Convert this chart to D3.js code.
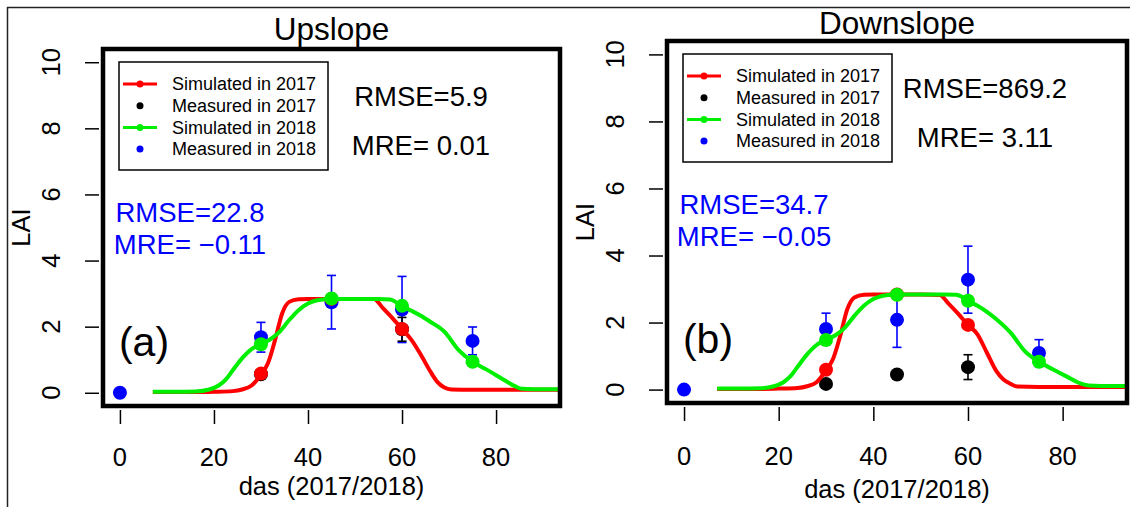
<!DOCTYPE html>
<html>
<head>
<meta charset="utf-8">
<script src="https://cdn.jsdelivr.net/npm/d3@7/dist/d3.min.js"></script>
<style>
  html, body { margin: 0; padding: 0; background: #fff; }
  svg { display: block; }
  text { font-family: "Liberation Sans", Arial, Helvetica, sans-serif; fill: #000; }
</style>
</head>
<body>
<svg id="chart" width="1130" height="507"></svg>
<script>
// ---- axis ticks ----
const xTicks = [0, 20, 40, 60, 80];
const yTicks = [0, 2, 4, 6, 8, 10];

// ---- legend ----
const legendLabels = ["Simulated in 2017", "Measured in 2017", "Simulated in 2018", "Measured in 2018"];

// ---- simulated daily LAI, 2017 (red) ----
const sim17Days = [7, 12, 16, 20, 24, 26, 28, 30, 31.5, 33, 34.5, 36, 38, 40, 45, 50, 54, 56, 58, 60, 62, 64, 66, 67.5, 69, 70.5, 75, 80, 85, 90, 93.6];
const upSim17 = [0.02, 0.02, 0.02, 0.03, 0.05, 0.1, 0.22, 0.55, 0.9, 1.6, 2.4, 2.75, 2.83, 2.84, 2.84, 2.84, 2.84, 2.55, 2.25, 1.93, 1.6, 1.15, 0.65, 0.33, 0.16, 0.1, 0.09, 0.09, 0.09, 0.09, 0.09];
const downSim17 = [0.02, 0.02, 0.02, 0.03, 0.05, 0.1, 0.22, 0.57, 0.92, 1.6, 2.4, 2.75, 2.83, 2.84, 2.84, 2.84, 2.82, 2.55, 2.25, 1.93, 1.65, 1.1, 0.55, 0.3, 0.17, 0.09, 0.08, 0.08, 0.08, 0.08, 0.08];

// ---- simulated daily LAI, 2018 (green) ----
const sim18Days = [7, 12, 16, 19, 21, 22.5, 24, 26, 28, 30, 32, 34, 36, 38, 40, 42, 45, 50, 55, 57.5, 59, 60, 62, 64, 66, 69, 72, 75, 78, 81, 84, 85.5, 88, 93.6];
const upSim18 = [0.03, 0.03, 0.04, 0.1, 0.22, 0.4, 0.68, 1.05, 1.32, 1.47, 1.62, 1.85, 2.2, 2.5, 2.7, 2.8, 2.84, 2.84, 2.84, 2.82, 2.72, 2.62, 2.48, 2.33, 2.15, 1.85, 1.3, 0.94, 0.7, 0.45, 0.2, 0.12, 0.11, 0.11];
const downSim18 = [0.03, 0.03, 0.04, 0.1, 0.22, 0.4, 0.68, 1.05, 1.33, 1.48, 1.62, 1.85, 2.2, 2.5, 2.7, 2.8, 2.84, 2.84, 2.84, 2.83, 2.75, 2.65, 2.5, 2.32, 2.1, 1.7, 1.15, 0.83, 0.6, 0.38, 0.17, 0.12, 0.11, 0.11];

// ---- simulated values at sampling dates ----
const sim17PtDays = [30, 45, 60];
const upSim17Pts = [0.58, 2.84, 1.93];
const downSim17Pts = [0.59, 2.84, 1.93];
const sim18PtDays = [30, 45, 60, 75];
const upSim18Pts = [1.47, 2.85, 2.63, 0.94];
const downSim18Pts = [1.48, 2.83, 2.65, 0.83];

// ---- measured LAI, 2017 (black) with standard deviation ----
const meas17Days = [30, 60];
const upMeas17 = [0.56, 1.92];
const upMeas17Sd = [0, 0.36];
const downMeas17Days = [30, 45, 60];
const downMeas17 = [0.17, 0.45, 0.67];
const downMeas17Sd = [0, 0, 0.37];

// ---- measured LAI, 2018 (blue) with standard deviation ----
const meas18Days = [0, 30, 45, 60, 75];
const upMeas18 = [0, 1.68, 2.74, 2.52, 1.57];
const upMeas18Sd = [0, 0.45, 0.81, 1.0, 0.42];
const downMeas18 = [0, 1.81, 2.08, 3.28, 1.09];
const downMeas18Sd = [0, 0.47, 0.82, 1.0, 0.40];

// ---- fit statistics ----
const upStats17 = ["RMSE=5.9", "MRE= 0.01"];
const upStats18 = ["RMSE=22.8", "MRE= \u22120.11"];
const downStats17 = ["RMSE=869.2", "MRE= 3.11"];
const downStats18 = ["RMSE=34.7", "MRE= \u22120.05"];

const RED = "#ff0000", GREEN = "#00ee00", BLUE = "#0000ff", BLACK = "#000000";

const svg = d3.select("#chart");

// page frame
svg.append("line").attr("x1", 7).attr("y1", 7.5).attr("x2", 1130).attr("y2", 7.5)
  .attr("stroke", "#222").attr("stroke-width", 1.5);
svg.append("line").attr("x1", 7.5).attr("y1", 7).attr("x2", 7.5).attr("y2", 507)
  .attr("stroke", "#222").attr("stroke-width", 1.5);

const panels = [
  {
    id: "up", title: "Upslope", tag: "(a)",
    box: { x0: 103, x1: 560, y0: 49, y1: 406 },
    titleY: 40, xTitleY: 495, tickLabelY: 466,
    sim17: upSim17, sim18: upSim18,
    sim17Pts: upSim17Pts, sim18Pts: upSim18Pts,
    m17Days: meas17Days, m17: upMeas17, m17Sd: upMeas17Sd,
    m18: upMeas18, m18Sd: upMeas18Sd,
    stats17: upStats17, stats18: upStats18
  },
  {
    id: "down", title: "Downslope", tag: "(b)",
    box: { x0: 667, x1: 1127, y0: 41, y1: 403 },
    titleY: 34, xTitleY: 498, tickLabelY: 465,
    sim17: downSim17, sim18: downSim18,
    sim17Pts: downSim17Pts, sim18Pts: downSim18Pts,
    m17Days: downMeas17Days, m17: downMeas17, m17Sd: downMeas17Sd,
    m18: downMeas18, m18Sd: downMeas18Sd,
    stats17: downStats17, stats18: downStats18
  }
];

panels.forEach(p => {
  const b = p.box;
  const x = d3.scaleLinear().domain([-3.6, 93.6]).range([b.x0, b.x1]);
  const y = d3.scaleLinear().domain([-0.4, 10.4]).range([b.y1, b.y0]);
  const g = svg.append("g");

  // title
  g.append("text").attr("x", (b.x0 + b.x1) / 2).attr("y", p.titleY)
    .attr("text-anchor", "middle").attr("font-size", 31.5).text(p.title);

  // y axis: tick marks and rotated labels
  const yAxis = d3.axisLeft(y).tickValues(yTicks).tickSize(14).tickPadding(20);
  const ya = g.append("g").attr("transform", `translate(${b.x0 - 4},0)`).call(yAxis);
  ya.select(".domain").remove();
  ya.selectAll(".tick line").attr("stroke", "#000").attr("stroke-width", 1.5);
  ya.selectAll(".tick text").remove();
  yTicks.forEach(t => {
    g.append("text")
      .attr("transform", `translate(${b.x0 - 52},${y(t)}) rotate(-90)`)
      .attr("text-anchor", "middle").attr("dy", "0.36em")
      .attr("font-size", 25.5).text(t);
  });

  // x axis: tick marks and labels
  const xAxis = d3.axisBottom(x).tickValues(xTicks).tickSize(14).tickFormat(d3.format("d"));
  const xa = g.append("g").attr("transform", `translate(0,${b.y1 + 4})`).call(xAxis);
  xa.select(".domain").remove();
  xa.selectAll(".tick line").attr("stroke", "#000").attr("stroke-width", 1.5);
  xa.selectAll(".tick text").remove();
  xTicks.forEach(t => {
    g.append("text").attr("x", x(t)).attr("y", p.tickLabelY)
      .attr("text-anchor", "middle").attr("font-size", 25.5).text(t);
  });

  // axis titles
  g.append("text").attr("x", (b.x0 + b.x1) / 2).attr("y", p.xTitleY)
    .attr("text-anchor", "middle").attr("font-size", 25.5).text("das (2017/2018)");
  g.append("text")
    .attr("transform", `translate(${b.x0 - 82},${(b.y0 + b.y1) / 2}) rotate(-90)`)
    .attr("text-anchor", "middle").attr("dy", "0.36em")
    .attr("font-size", 25.5).text("LAI");

  // plotting region
  const clipId = "clip-" + p.id;
  svg.append("clipPath").attr("id", clipId).append("rect")
    .attr("x", b.x0).attr("y", b.y0).attr("width", b.x1 - b.x0).attr("height", b.y1 - b.y0);
  const plot = g.append("g").attr("clip-path", `url(#${clipId})`);

  const errorBars = (days, vals, sds, color) => {
    days.forEach((d, i) => {
      const sd = sds[i];
      if (!sd) return;
      const cx = x(d), lo = y(vals[i] - sd), hi = y(vals[i] + sd);
      plot.append("line").attr("x1", cx).attr("x2", cx).attr("y1", lo).attr("y2", hi)
        .attr("stroke", color).attr("stroke-width", 1.6);
      [lo, hi].forEach(yy => plot.append("line")
        .attr("x1", cx - 4.5).attr("x2", cx + 4.5).attr("y1", yy).attr("y2", yy)
        .attr("stroke", color).attr("stroke-width", 1.6));
    });
  };
  const dots = (days, vals, color, r) => {
    plot.append("g").selectAll("circle").data(days).join("circle")
      .attr("cx", d => x(d)).attr("cy", (d, i) => y(vals[i]))
      .attr("r", r).attr("fill", color);
  };
  const line = d3.line().x(d => x(d[0])).y(d => y(d[1])).curve(d3.curveMonotoneX);
  const curve = (days, vals, color) => {
    plot.append("path").datum(days.map((d, i) => [d, vals[i]]))
      .attr("d", line).attr("fill", "none").attr("stroke", color)
      .attr("stroke-width", 4).attr("stroke-linejoin", "round");
  };

  // measured 2018
  errorBars(meas18Days, p.m18, p.m18Sd, BLUE);
  dots(meas18Days, p.m18, BLUE, 7);
  // measured 2017
  errorBars(p.m17Days, p.m17, p.m17Sd, BLACK);
  dots(p.m17Days, p.m17, BLACK, 7);
  // simulated 2017
  curve(sim17Days, p.sim17, RED);
  dots(sim17PtDays, p.sim17Pts, RED, 7);
  // simulated 2018
  curve(sim18Days, p.sim18, GREEN);
  dots(sim18PtDays, p.sim18Pts, GREEN, 7);

  // legend
  const lx = b.x0 + 16, ly = b.y0 + 13;
  const lg = g.append("g").attr("transform", `translate(${lx},${ly})`);
  lg.append("rect").attr("x", 0).attr("y", 0).attr("width", 209).attr("height", 108)
    .attr("fill", "#fff").attr("stroke", "#000").attr("stroke-width", 1.5);
  const legendStyle = [
    { color: RED, line: true }, { color: BLACK, line: false },
    { color: GREEN, line: true }, { color: BLUE, line: false }
  ];
  legendLabels.forEach((lab, i) => {
    const ry = 22 + i * 21.7;
    if (legendStyle[i].line) {
      lg.append("line").attr("x1", 4).attr("x2", 38).attr("y1", ry).attr("y2", ry)
        .attr("stroke", legendStyle[i].color).attr("stroke-width", 3);
    }
    lg.append("circle").attr("cx", 21).attr("cy", ry).attr("r", 3.5).attr("fill", legendStyle[i].color);
    lg.append("text").attr("x", 53).attr("y", ry).attr("dy", "0.35em")
      .attr("font-size", 18).text(lab);
  });

  // fit statistics
  g.append("text").attr("x", b.x0 + 318).attr("y", b.y0 + 56.5)
    .attr("text-anchor", "middle").attr("font-size", 27.5).text(p.stats17[0]);
  g.append("text").attr("x", b.x0 + 318).attr("y", b.y0 + 106)
    .attr("text-anchor", "middle").attr("font-size", 27.5).text(p.stats17[1]);
  g.append("text").attr("x", b.x0 + 87).attr("y", b.y0 + 173)
    .attr("text-anchor", "middle").attr("font-size", 27.5).style("fill", BLUE).text(p.stats18[0]);
  g.append("text").attr("x", b.x0 + 87).attr("y", b.y0 + 205)
    .attr("text-anchor", "middle").attr("font-size", 27.5).style("fill", BLUE).text(p.stats18[1]);

  // panel tag
  g.append("text").attr("x", b.x0 + 41).attr("y", y(1.1))
    .attr("text-anchor", "middle").attr("font-size", 41).text(p.tag);

  // heavy frame around plotting region
  g.append("rect").attr("x", b.x0).attr("y", b.y0)
    .attr("width", b.x1 - b.x0).attr("height", b.y1 - b.y0)
    .attr("fill", "none").attr("stroke", "#000").attr("stroke-width", 4.5);
});
</script>
</body>
</html>
